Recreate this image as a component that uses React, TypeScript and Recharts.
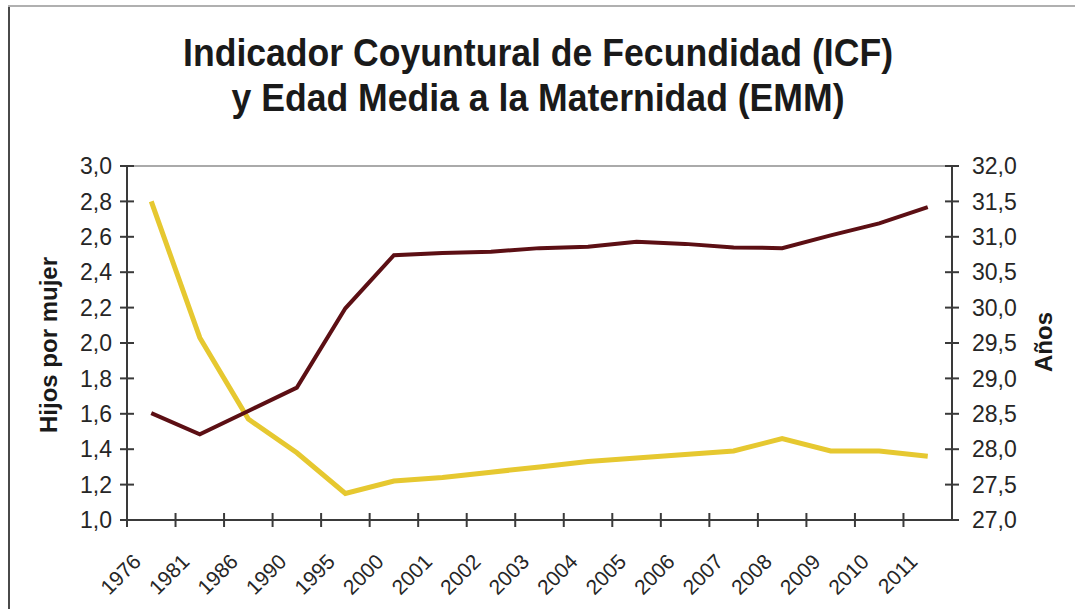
import React from 'react';
import { LineChart, Line, XAxis, YAxis, ReferenceLine } from 'recharts';

const years = ['1976', '1981', '1986', '1990', '1995', '2000', '2001', '2002', '2003', '2004', '2005', '2006', '2007', '2008', '2009', '2010', '2011'];
const icfValues = [2.80, 2.03, 1.57, 1.38, 1.15, 1.22, 1.24, 1.27, 1.30, 1.33, 1.35, 1.37, 1.39, 1.46, 1.39, 1.39, 1.36];
const emmValues = [28.51, 28.21, 28.54, 28.87, 29.99, 30.74, 30.77, 30.79, 30.84, 30.86, 30.93, 30.90, 30.85, 30.84, 31.02, 31.19, 31.42];
const leftTicks = [1.0, 1.2, 1.4, 1.6, 1.8, 2.0, 2.2, 2.4, 2.6, 2.8, 3.0];
const rightTicks = [27.0, 27.5, 28.0, 28.5, 29.0, 29.5, 30.0, 30.5, 31.0, 31.5, 32.0];

const titleLine1 = 'Indicador Coyuntural de Fecundidad (ICF)';
const titleLine2 = 'y Edad Media a la Maternidad (EMM)';
const leftAxisTitle = 'Hijos por mujer';
const rightAxisTitle = 'Años';

const data = years.map((y, i) => ({ year: y, icf: icfValues[i], emm: emmValues[i] }));

const W = 1075;
const H = 609;
const PLOT_LEFT = 127;
const PLOT_RIGHT = 952;
const PLOT_TOP = 166;
const PLOT_BOTTOM = 520;
const BAND = (PLOT_RIGHT - PLOT_LEFT) / years.length;
const FONT = '"Liberation Sans", Arial, Helvetica, sans-serif';
const AXIS_COLOR = '#3a3a3a';
const TEXT_COLOR = '#262626';

const fmt = (v: number) => v.toFixed(1).replace('.', ',');

const XTick = (props: any) => {
  const { x, y, payload } = props;
  const bx = x - BAND / 2;
  const ax = x - 9;
  const ay = y + 43;
  return (
    <g>
      <line x1={bx} x2={bx} y1={y - 7} y2={y + 7} stroke={AXIS_COLOR} strokeWidth={2} />
      <text x={ax} y={ay} textAnchor="end" fontSize={21} fontFamily={FONT} fill={TEXT_COLOR}
        transform={`rotate(-45, ${ax}, ${ay})`}>{payload.value}</text>
    </g>
  );
};

const LeftTick = (props: any) => {
  const { x, y, payload } = props;
  return (
    <g>
      <line x1={x - 7} x2={x + 7} y1={y} y2={y} stroke={AXIS_COLOR} strokeWidth={2} />
      <text x={x - 15} y={y} dy="0.36em" textAnchor="end" fontSize={23} fontFamily={FONT} fill={TEXT_COLOR}>{fmt(payload.value)}</text>
    </g>
  );
};

const RightTick = (props: any) => {
  const { x, y, payload } = props;
  return (
    <g>
      <line x1={x - 7} x2={x + 7} y1={y} y2={y} stroke={AXIS_COLOR} strokeWidth={2} />
      <text x={x + 20} y={y} dy="0.36em" textAnchor="start" fontSize={23} fontFamily={FONT} fill={TEXT_COLOR}>{fmt(payload.value)}</text>
    </g>
  );
};

export default function App() {
  return (
    <div style={{ position: 'absolute', left: 0, top: 0, width: W, height: H, background: '#fff', overflow: 'hidden' }}>
      <div style={{ position: 'absolute', left: 8, top: 5, width: 2, height: H - 5, background: '#4a4a4a' }} />
      <div style={{ position: 'absolute', left: 8, top: 5, width: W - 8, height: 2, background: '#b0b0b0' }} />
      <div style={{ position: 'absolute', left: 0, top: 0 }}>
        <LineChart width={W} height={H} data={data} margin={{ top: PLOT_TOP, right: 0, bottom: 0, left: 0 }}>
          <XAxis dataKey="year" scale="band" height={H - PLOT_BOTTOM} interval={0}
            axisLine={{ stroke: AXIS_COLOR, strokeWidth: 2 }} tickLine={false} tickSize={0} tickMargin={0}
            tick={<XTick />} />
          <YAxis yAxisId="left" width={PLOT_LEFT} domain={[1, 3]} ticks={leftTicks} interval={0}
            axisLine={{ stroke: AXIS_COLOR, strokeWidth: 2 }} tickLine={false} tickSize={0} tickMargin={0}
            tick={<LeftTick />} />
          <YAxis yAxisId="right" orientation="right" width={W - PLOT_RIGHT} domain={[27, 32]} ticks={rightTicks} interval={0}
            axisLine={{ stroke: AXIS_COLOR, strokeWidth: 2 }} tickLine={false} tickSize={0} tickMargin={0}
            tick={<RightTick />} />
          <ReferenceLine yAxisId="left" y={3} stroke="#aaaaaa" strokeWidth={2} />
          <Line yAxisId="left" type="linear" dataKey="icf" stroke="#E6C830" strokeWidth={5} dot={false} isAnimationActive={false} />
          <Line yAxisId="right" type="linear" dataKey="emm" stroke="#5C0F14" strokeWidth={4} dot={false} isAnimationActive={false} />
        </LineChart>
      </div>
      <svg width={W} height={H} style={{ position: 'absolute', left: 0, top: 0, pointerEvents: 'none' }}>
        <text x={538} y={66} textAnchor="middle" fontSize={38} fontWeight="bold" fontFamily={FONT} fill="#1a1a1a"
          textLength={710} lengthAdjust="spacingAndGlyphs">{titleLine1}</text>
        <text x={538} y={111} textAnchor="middle" fontSize={38} fontWeight="bold" fontFamily={FONT} fill="#1a1a1a"
          textLength={613} lengthAdjust="spacingAndGlyphs">{titleLine2}</text>
        <text x={57} y={345} textAnchor="middle" fontSize={24} fontWeight="bold" fontFamily={FONT} fill="#1a1a1a"
          transform="rotate(-90, 57, 345)">{leftAxisTitle}</text>
        <text x={1052} y={342} textAnchor="middle" fontSize={24} fontWeight="bold" fontFamily={FONT} fill="#1a1a1a"
          transform="rotate(-90, 1052, 342)">{rightAxisTitle}</text>
      </svg>
    </div>
  );
}
